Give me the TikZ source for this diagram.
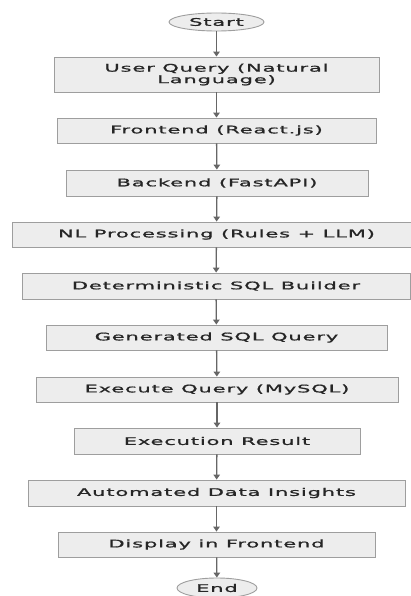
\documentclass[tikz,border=0pt]{standalone}
\usepackage{fontspec}
\newfontfamily\labfont[FakeStretch=2.0,LetterSpace=8,FakeBold=1.2]{DejaVu Sans}
\usetikzlibrary{shapes.geometric,arrows.meta}
\begin{document}
\begin{tikzpicture}[x=1pt,y=-1pt,
  box/.style={draw=black!38, fill=black!7, line width=0.9pt, inner sep=0pt,
    font=\labfont\fontsize{10.5}{11.5}\selectfont, text=black!85, align=center},
  term/.style={box, ellipse},
  flow/.style={draw=black!60, line width=1.3pt, -{Triangle[length=5pt,width=6.5pt]}}]
\useasboundingbox (0,0) rectangle (411,596);
\fill[white] (0,0) rectangle (411,596);
\node[term, minimum width=95pt, minimum height=18pt] (start) at (216.5,22) {Start};
\node[box, minimum width=325pt, minimum height=35pt] (uq) at (216.5,74.5) {User Query (Natural\\Language)};
\node[box, minimum width=319pt, minimum height=25pt] (fe) at (216.5,130.5) {Frontend (React.js)};
\node[box, minimum width=302pt, minimum height=26pt] (be) at (217,183) {Backend (FastAPI)};
\node[box, minimum width=409pt, minimum height=25pt] (nl) at (216.5,234.5) {NL Processing (Rules + LLM)};
\node[box, minimum width=388pt, minimum height=26pt] (det) at (216,286) {Deterministic SQL Builder};
\node[box, minimum width=341pt, minimum height=25pt] (gen) at (216.5,337.5) {Generated SQL Query};
\node[box, minimum width=362pt, minimum height=25pt] (exq) at (217,389.5) {Execute Query (MySQL)};
\node[box, minimum width=286pt, minimum height=26pt] (res) at (217,441) {Execution Result};
\node[box, minimum width=377pt, minimum height=26pt] (ins) at (216.5,493) {Automated Data Insights};
\node[box, minimum width=317pt, minimum height=25pt] (disp) at (216.5,544.5) {Display in Frontend};
\node[term, minimum width=80pt, minimum height=20pt] (end) at (217,588) {End};
\draw[flow] (start) -- (uq);
\draw[flow] (uq) -- (fe);
\draw[flow] (fe) -- (be);
\draw[flow] (be) -- (nl);
\draw[flow] (nl) -- (det);
\draw[flow] (det) -- (gen);
\draw[flow] (gen) -- (exq);
\draw[flow] (exq) -- (res);
\draw[flow] (res) -- (ins);
\draw[flow] (ins) -- (disp);
\draw[flow] (disp) -- (end);
\end{tikzpicture}
\end{document}
